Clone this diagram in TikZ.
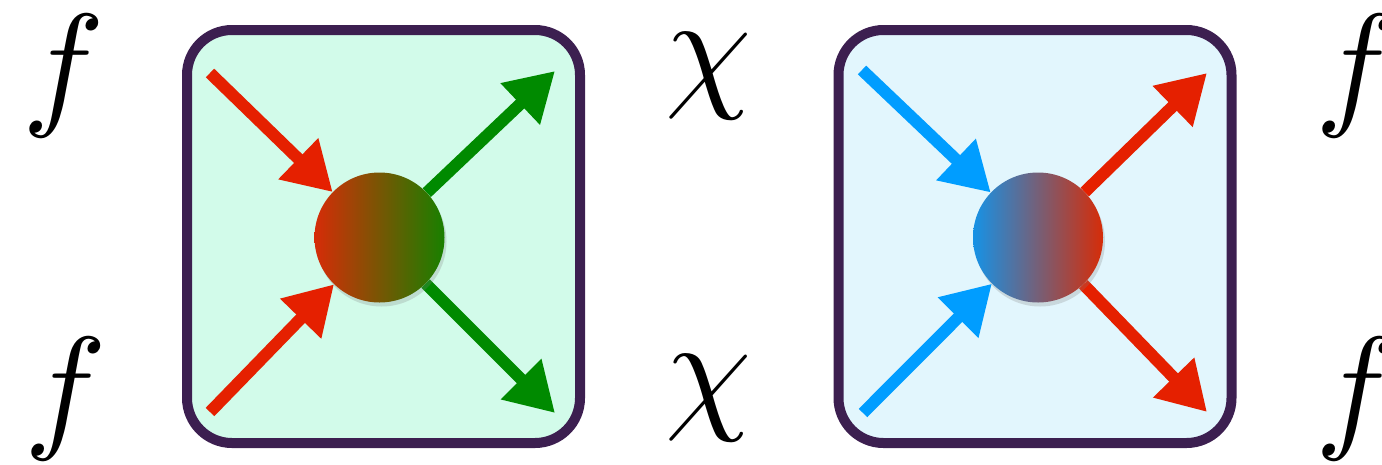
\documentclass[tikz,border=0pt]{standalone}
\usetikzlibrary{arrows.meta,shadows}
\definecolor{frame}{RGB}{60,31,80}
\definecolor{mint}{RGB}{210,251,234}
\definecolor{ice}{RGB}{226,246,253}
\definecolor{ared}{RGB}{229,32,0}
\definecolor{agreen}{RGB}{0,138,0}
\definecolor{ablue}{RGB}{0,157,255}
\definecolor{gred}{RGB}{214,44,8}
\definecolor{ggreen}{RGB}{24,128,0}
\definecolor{gblue}{RGB}{22,146,230}
\tikzset{
  panel/.style={draw=frame, line width=10pt, rounded corners=45pt, minimum width=393pt, minimum height=413pt, inner sep=0pt},
  vertex/.style={circle, minimum size=130pt, inner sep=0pt, drop shadow={opacity=0.25, shadow xshift=2pt, shadow yshift=-4pt}},
  particle/.style={line width=12pt, -{Triangle[length=48pt,width=54pt]}},
  lbl/.style={inner sep=0pt, anchor=base, scale=13.8}
}
\begin{document}
\begin{tikzpicture}[x=1pt,y=-1pt]
\useasboundingbox (0,0) rectangle (1382,464);
% labels
\node[lbl] (f1) at (64,110) {$f$};
\node[lbl] (f2) at (66,433) {$f$};
\node[lbl] (c1) at (709,92) {$\chi$};
\node[lbl] (c2) at (709,414) {$\chi$};
\node[lbl] (f3) at (1357,110) {$f$};
\node[lbl] (f4) at (1357,433) {$f$};
% panels
\node[panel, fill=mint] (P1) at (383.5,236.5) {};
\node[panel, fill=ice] (P2) at (1035,236.5) {};
% endpoints
\coordinate (a1) at (210,73);
\coordinate (a2) at (210,412);
\coordinate (a3) at (555,71);
\coordinate (a4) at (555,413);
\coordinate (b1) at (862,70);
\coordinate (b2) at (863,413);
\coordinate (b3) at (1207,73);
\coordinate (b4) at (1207,412);
% vertices (coordinates for connectors)
\coordinate (V1) at (379.5,237.5);
\coordinate (V2) at (1038,237.5);
\node[circle, minimum size=130pt, inner sep=0pt] (v1) at (V1) {};
\node[circle, minimum size=130pt, inner sep=0pt] (v2) at (V2) {};
% connectors
\draw[particle, draw=ared, fill=ared] (a1) -- (v1);
\draw[particle, draw=ared, fill=ared] (a2) -- (v1);
\draw[particle, draw=agreen, fill=agreen] (v1) -- (a3);
\draw[particle, draw=agreen, fill=agreen] (v1) -- (a4);
\draw[particle, draw=ablue, fill=ablue] (b1) -- (v2);
\draw[particle, draw=ablue, fill=ablue] (b2) -- (v2);
\draw[particle, draw=ared, fill=ared] (v2) -- (b3);
\draw[particle, draw=ared, fill=ared] (v2) -- (b4);
% gradient vertices on top
\node[vertex, left color=gred, right color=ggreen] (g1) at (V1) {};
\node[vertex, left color=gblue, right color=gred] (g2) at (V2) {};
\end{tikzpicture}
\end{document}
